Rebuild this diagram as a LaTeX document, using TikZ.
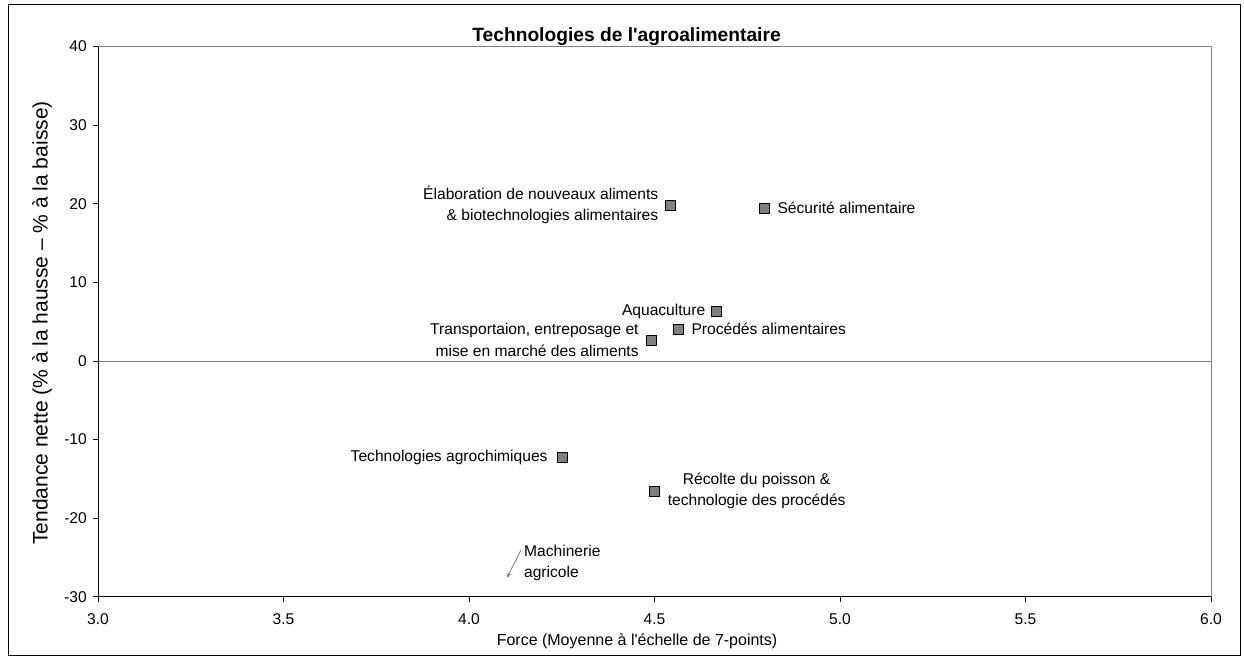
\documentclass[tikz,border=0pt]{standalone}
\usepackage{fontspec}
\setmainfont{Liberation Sans}
\usetikzlibrary{positioning,arrows.meta}
\tikzset{
    marker/.style={draw, fill=gray, minimum size=10pt, inner sep=0pt, line width=0.8pt},
    lbl/.style={font=\fontsize{15.6}{21.5}\selectfont, inner sep=0pt},
    ticklbl/.style={font=\fontsize{15.6}{18}\selectfont, inner sep=0pt},
    axistitle/.style={font=\fontsize{16}{19}\selectfont, inner sep=0pt},
    titlelbl/.style={font=\fontsize{19.2}{22}\selectfont\bfseries, inner sep=0pt},
    guide/.style={draw=gray, line width=1pt},
    axis/.style={draw=black, line width=1pt},
    pointer/.style={draw=gray, line width=0.8pt, -{Stealth[length=6pt, width=4pt]}},
}

\begin{document}
\begin{tikzpicture}[x=371pt, y=7.86pt]
    \useasboundingbox (2.7358,-37.79) rectangle (6.0889,45.93);

    % Chart frame
    \draw[line width=1pt] (2.7574,-37.53) rectangle (6.0782,45.42);

    % Plot area
    \draw[guide] (3,40) -- (6,40) -- (6,-30);
    \draw[guide] (3,0) -- (6,0);
    \draw[axis] (3,40) -- (3,-30) -- (6,-30);

    % Ticks and tick labels
    \foreach \v in {-30,-20,-10,0,10,20,30,40} {
        \draw[axis] (3,\v) -- ++(-5pt,0);
        \node[ticklbl, anchor=east] at ([xshift=-11pt]3,\v) {\v};
    }
    \foreach \x in {3.0,3.5,4.0,4.5,5.0,5.5,6.0} {
        \draw[axis] (\x,-30) -- ++(0,-5pt);
        \node[ticklbl] at ([yshift=-22pt]\x,-30) {\x};
    }

    % Titles
    \node[titlelbl] (title) at (4.4245,41.22) {Technologies de l\textquotesingle agroalimentaire};
    \node[axistitle] (xtitle) at (4.4528,-35.62) {Force (Moyenne à l\textquotesingle échelle de 7-points)};
    \node[axistitle, font=\fontsize{21}{24}\selectfont, rotate=90] (ytitle) at (2.8490,4.83) {Tendance nette (\% à la hausse – \% à la baisse)};

    % Data points
    \node[marker] (elab) at (4.544,19.85) {};
    \node[marker] (secu) at (4.795,19.47) {};
    \node[marker] (aqua) at (4.668,6.36) {};
    \node[marker] (proc) at (4.563,4.07) {};
    \node[marker] (trans) at (4.491,2.67) {};
    \node[marker] (agro) at (4.251,-12.21) {};
    \node[marker] (recol) at (4.499,-16.54) {};
    \coordinate (machpt) at (4.102,-27.61);

    % Point labels
    \node[lbl, align=right, left=7pt of elab] {Élaboration de nouveaux aliments\\\& biotechnologies alimentaires};
    \node[lbl, right=8pt of secu] {Sécurité alimentaire};
    \node[lbl, left=6pt of aqua] {Aquaculture};
    \node[lbl, right=8pt of proc] {Procédés alimentaires};
    \node[lbl, align=right, left=7pt of trans] {Transportaion, entreposage et\\mise en marché des aliments};
    \node[lbl, left=9pt of agro] {Technologies agrochimiques};
    \node[lbl, align=center, right=8pt of recol] {Récolte du poisson \&\\technologie des procédés};
    \node[lbl, align=left, anchor=west] (mach) at (4.148,-25.7) {Machinerie\\agricole};
    \draw[pointer] ([shift={(-3pt,13pt)}]mach.west) -- (machpt);
\end{tikzpicture}
\end{document}
